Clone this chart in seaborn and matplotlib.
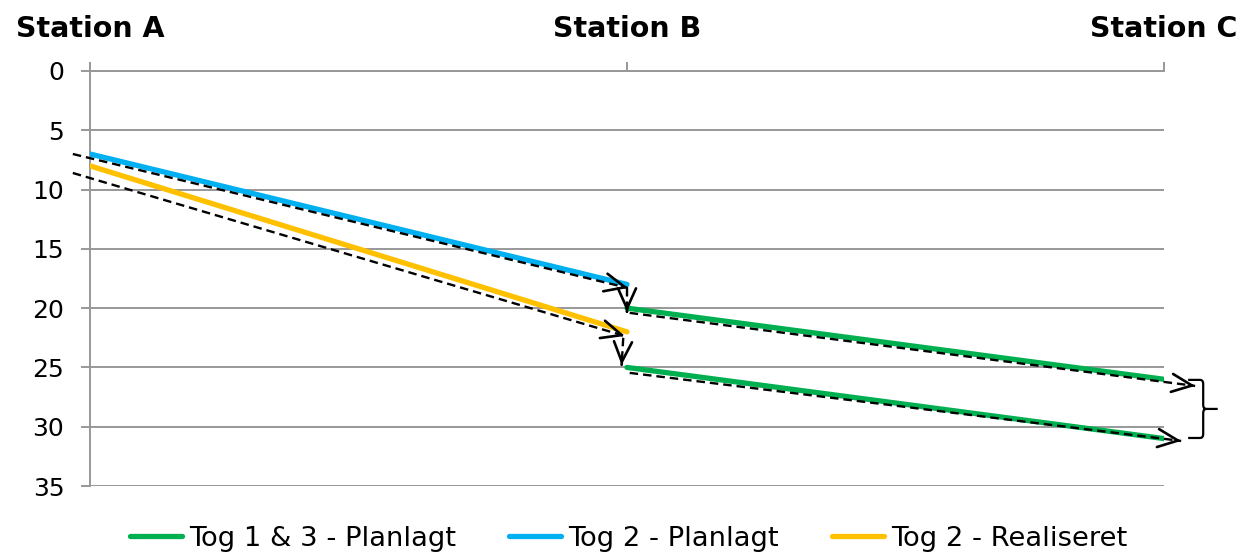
import matplotlib
matplotlib.use("Agg")
import matplotlib.pyplot as plt
from matplotlib.lines import Line2D
from matplotlib.path import Path
from matplotlib.patches import PathPatch
import pandas as pd
import seaborn as sns

# Stations along the line (x positions) and their names
stations = [0, 1, 2]
station_names = ["Station A", "Station B", "Station C"]

# Timetable segments: station position -> minutes
tog1_x, tog1_t = [1, 2], [20, 26]
tog3_x, tog3_t = [1, 2], [25, 31]
tog2_plan_x, tog2_plan_t = [0, 1], [7, 18]
tog2_real_x, tog2_real_t = [0, 1], [8, 22]

series_names = ["Tog 1 & 3 - Planlagt", "Tog 2 - Planlagt", "Tog 2 - Realiseret"]
series_colors = ["#00B050", "#00B0F0", "#FFC000"]

y_ticks = [0, 5, 10, 15, 20, 25, 30, 35]

# Delay propagation arrows (start x, start t, end x, end t)
delay_arrows = [
    (-0.032, 7.0, 1.002, 18.3),
    (-0.032, 8.6, 0.996, 22.35),
    (1.0, 18.3, 1.0, 20.3),
    (0.993, 22.5, 0.99, 24.8),
    (1.005, 20.4, 2.058, 26.56),
    (1.005, 25.46, 2.032, 31.2),
]
# Brace grouping the two arrivals at Station C
brace_x_arm, brace_x_vert, brace_x_tip = 2.045, 2.073, 2.10
brace_t_top, brace_t_mid, brace_t_bot = 26.05, 28.5, 30.95

rows = []
for seg, (xs, ts, name) in enumerate([
    (tog1_x, tog1_t, series_names[0]),
    (tog3_x, tog3_t, series_names[0]),
    (tog2_plan_x, tog2_plan_t, series_names[1]),
    (tog2_real_x, tog2_real_t, series_names[2]),
]):
    for x, t in zip(xs, ts):
        rows.append({"station": x, "minutes": t, "series": name, "segment": seg})
df = pd.DataFrame(rows)

sns.set_style("white")
plt.rcParams["font.family"] = ["DejaVu Sans"]
plt.rcParams["text.color"] = "black"
plt.rcParams["xtick.labelcolor"] = "black"
plt.rcParams["ytick.labelcolor"] = "black"

grid_color = "#989898"

fig = plt.figure(figsize=(12.43, 5.54), dpi=100)
ax = fig.add_axes([90 / 1243, 1 - 486 / 554, (1164 - 90) / 1243, (486 - 71) / 554])

sns.lineplot(
    data=df, x="station", y="minutes", hue="series", units="segment",
    estimator=None, hue_order=series_names, palette=series_colors,
    linewidth=3.8, solid_capstyle="round", legend=False, ax=ax, zorder=3,
)

ax.set_xlim(0, 2)
ax.set_ylim(35, 0)
ax.set_xlabel("")
ax.set_ylabel("")

# Horizontal gridlines
ax.set_yticks(y_ticks)
ax.yaxis.grid(True, color=grid_color, linewidth=1.4)
ax.xaxis.grid(False)
ax.set_axisbelow(True)

for side in ["right", "bottom"]:
    ax.spines[side].set_visible(False)
for side in ["left", "top"]:
    ax.spines[side].set_color(grid_color)
    ax.spines[side].set_linewidth(1.4)

ax.tick_params(axis="y", direction="out", length=6.5, width=1.4, color=grid_color,
               labelsize=18, pad=12, left=True, labelcolor="black")
ax.xaxis.tick_top()
ax.set_xticks(stations)
ax.set_xticklabels(station_names, fontweight="bold", fontsize=20.5, color="black")
ax.tick_params(axis="x", direction="out", length=6.5, width=1.4, color=grid_color,
               pad=13.5, top=True, bottom=False, labelcolor="black")

# Dashed delay arrows with solid open heads
for x0, t0, x1, t1 in delay_arrows:
    ax.plot([x0, x1], [t0, t1], color="black", linewidth=1.7,
            linestyle=(0, (3.6, 2.1)), clip_on=False, zorder=4)
    xs = x0 + 0.99 * (x1 - x0)
    ts = t0 + 0.99 * (t1 - t0)
    ax.annotate("", xy=(x1, t1), xytext=(xs, ts), annotation_clip=False,
                arrowprops=dict(arrowstyle="->,head_length=1.45,head_width=0.65",
                                color="black", lw=1.9, shrinkA=0, shrinkB=0,
                                mutation_scale=10), zorder=5)

# Curly brace
r = 0.35
codes = [Path.MOVETO, Path.LINETO, Path.CURVE3, Path.CURVE3, Path.LINETO,
         Path.CURVE3, Path.CURVE3, Path.LINETO, Path.MOVETO,
         Path.CURVE3, Path.CURVE3, Path.LINETO, Path.CURVE3, Path.CURVE3,
         Path.LINETO]
dx = 0.006
verts = [
    (brace_x_arm, brace_t_top), (brace_x_vert - dx, brace_t_top),
    (brace_x_vert, brace_t_top), (brace_x_vert, brace_t_top + r),
    (brace_x_vert, brace_t_mid - r),
    (brace_x_vert, brace_t_mid), (brace_x_vert + dx, brace_t_mid),
    (brace_x_tip, brace_t_mid),
    (brace_x_vert + dx, brace_t_mid),
    (brace_x_vert, brace_t_mid), (brace_x_vert, brace_t_mid + r),
    (brace_x_vert, brace_t_bot - r),
    (brace_x_vert, brace_t_bot), (brace_x_vert - dx, brace_t_bot),
    (brace_x_arm, brace_t_bot),
]
brace = PathPatch(Path(verts, codes), facecolor="none", edgecolor="black",
                  linewidth=1.6, clip_on=False, zorder=5)
ax.add_patch(brace)

handles = [Line2D([], [], color=c, linewidth=3.8, solid_capstyle="round")
           for c in series_colors]
fig.legend(handles, series_names, loc="center",
           bbox_to_anchor=(628.5 / 1243, 1 - 539 / 554), ncol=3, frameon=False,
           fontsize=19.7, handlelength=1.9, handletextpad=0.25, columnspacing=1.95,
           labelcolor="black")

fig.savefig("out.png", dpi=100)
